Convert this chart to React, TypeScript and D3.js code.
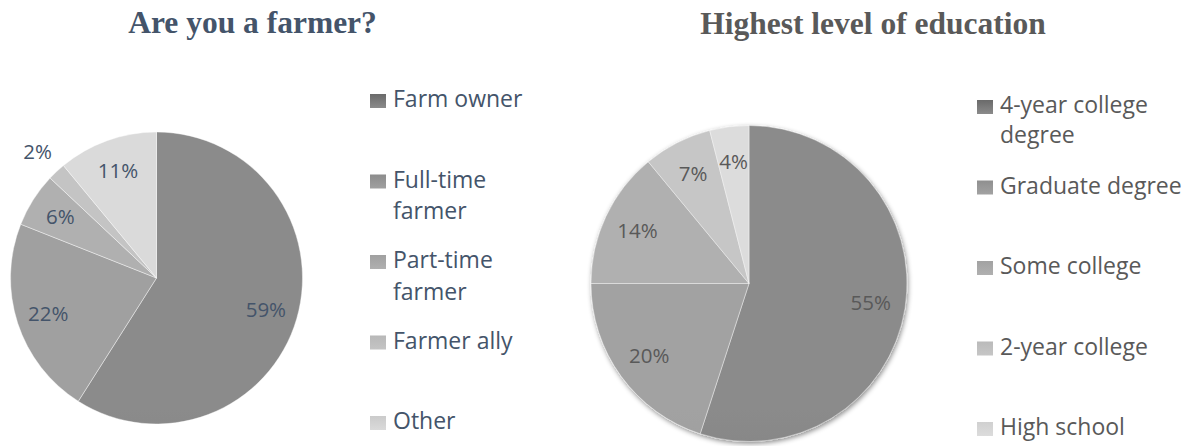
import React, { useEffect, useRef } from 'react';
import * as d3 from 'd3';

// chart data
const farmerTitle = 'Are you a farmer?';
const farmerCategories = ['Farm owner', 'Full-time farmer', 'Part-time farmer', 'Farmer ally', 'Other'];
const farmerValues = [59, 22, 6, 2, 11];

const educationTitle = 'Highest level of education';
const educationCategories = ['4-year college degree', 'Graduate degree', 'Some college', '2-year college', 'High school'];
const educationValues = [55, 20, 14, 7, 4];

// grey palettes (top of gradient, bottom of gradient)
const farmerColors = [
  ['#8b8b8b', '#6a6a6a'],
  ['#a0a0a0', '#8c8c8c'],
  ['#b0b0b0', '#a0a0a0'],
  ['#c4c4c4', '#b8b8b8'],
  ['#dadada', '#cbcbcb'],
];
const educationColors = [
  ['#8b8b8b', '#6a6a6a'],
  ['#a2a2a2', '#8f8f8f'],
  ['#b0b0b0', '#a2a2a2'],
  ['#c6c6c6', '#bababa'],
  ['#dcdcdc', '#d0d0d0'],
];

const WIDTH = 1201;
const HEIGHT = 446;
const LABEL_FONT = '"Open Sans", "DejaVu Sans", sans-serif';
const TITLE_FONT = '"Liberation Serif", "Times New Roman", serif';

// measure text so legend entries wrap like the original
const canvas = typeof document !== 'undefined' ? document.createElement('canvas') : null;
function wrapLines(text, maxWidth, fontSize) {
  const ctx = canvas.getContext('2d');
  ctx.font = `${fontSize}px ${LABEL_FONT}`;
  const words = text.split(' ');
  const lines = [];
  let line = '';
  words.forEach(w => {
    const test = line ? line + ' ' + w : w;
    if (line && ctx.measureText(test).width > maxWidth) {
      lines.push(line);
      line = w;
    } else {
      line = test;
    }
  });
  if (line) lines.push(line);
  return lines;
}

function drawPie(svg, opts) {
  const { id, categories, values, colors, cx, cy, r, textColor, title, titleX, titleY, legend, shadow } = opts;

  const defs = svg.append('defs');

  // gradient per slice, spanning the whole pie top to bottom
  colors.forEach((c, i) => {
    const g = defs
      .append('linearGradient')
      .attr('id', `${id}-slice-${i}`)
      .attr('gradientUnits', 'userSpaceOnUse')
      .attr('x1', 0)
      .attr('x2', 0)
      .attr('y1', cy - r)
      .attr('y2', cy + r);
    g.append('stop').attr('offset', '0%').attr('stop-color', c[0]);
    g.append('stop').attr('offset', '100%').attr('stop-color', c[1]);

    const s = defs
      .append('linearGradient')
      .attr('id', `${id}-key-${i}`)
      .attr('x1', 0)
      .attr('x2', 0)
      .attr('y1', 0)
      .attr('y2', 1);
    s.append('stop').attr('offset', '0%').attr('stop-color', c[1]);
    s.append('stop').attr('offset', '100%').attr('stop-color', c[0]);
  });

  if (shadow) {
    const f = defs
      .append('filter')
      .attr('id', `${id}-shadow`)
      .attr('x', '-10%')
      .attr('y', '-10%')
      .attr('width', '120%')
      .attr('height', '120%');
    f.append('feDropShadow')
      .attr('dx', 1)
      .attr('dy', 2)
      .attr('stdDeviation', 2.5)
      .attr('flood-color', '#000')
      .attr('flood-opacity', 0.45);
  }

  // title
  svg
    .append('text')
    .attr('x', titleX)
    .attr('y', titleY)
    .attr('text-anchor', 'middle')
    .attr('font-family', TITLE_FONT)
    .attr('font-weight', 'bold')
    .attr('font-size', 31.5)
    .attr('fill', textColor)
    .text(title);

  const pie = d3.pie().sort(null).value(d => d);
  const arcs = pie(values);
  const arc = d3.arc().innerRadius(0).outerRadius(r);

  const graph = svg.append('g').attr('transform', `translate(${cx},${cy})`);
  const slices = graph.append('g');
  if (shadow) slices.attr('filter', `url(#${id}-shadow)`);

  slices
    .selectAll('path')
    .data(arcs)
    .enter()
    .append('path')
    .attr('d', arc)
    .attr('fill', (d, i) => `url(#${id}-slice-${i})`)
    .attr('stroke', 'rgba(255,255,255,0.55)')
    .attr('stroke-width', 0.75);

  // data labels: inside for most, outside for tiny slices
  const inner = d3.arc().innerRadius(r * 0.78).outerRadius(r * 0.78);
  const outer = d3.arc().innerRadius(r * 1.19).outerRadius(r * 1.19);
  graph
    .selectAll('text.label')
    .data(arcs)
    .enter()
    .append('text')
    .attr('class', 'label')
    .attr('transform', d => `translate(${(d.data < 3 ? outer : inner).centroid(d)})`)
    .attr('text-anchor', 'middle')
    .attr('dy', '0.36em')
    .attr('font-family', LABEL_FONT)
    .attr('font-size', 20.5)
    .attr('fill', textColor)
    .text(d => d.data + '%');

  // legend
  const leg = svg.append('g');
  categories.forEach((name, i) => {
    const base = legend.y + i * legend.step;
    leg
      .append('rect')
      .attr('x', legend.x)
      .attr('y', base - 13)
      .attr('width', 16)
      .attr('height', 14)
      .attr('fill', `url(#${id}-key-${i})`);
    const t = leg
      .append('text')
      .attr('x', legend.x + 23)
      .attr('y', base)
      .attr('font-family', LABEL_FONT)
      .attr('font-size', 23)
      .attr('fill', textColor);
    wrapLines(name, legend.wrap, 23).forEach((line, j) => {
      t.append('tspan')
        .attr('x', legend.x + 23)
        .attr('y', base + j * legend.lineHeight)
        .text(line);
    });
  });
}

export default function App() {
  const ref = useRef(null);

  useEffect(() => {
    const svg = d3.select(ref.current);
    svg.selectAll('*').remove();

    drawPie(svg, {
      id: 'farmer',
      categories: farmerCategories,
      values: farmerValues,
      colors: farmerColors,
      cx: 156.5,
      cy: 278,
      r: 146,
      textColor: '#44546a',
      title: farmerTitle,
      titleX: 252.5,
      titleY: 33,
      legend: { x: 370, y: 107, step: 80.5, wrap: 150, lineHeight: 31.5 },
      shadow: false,
    });

    drawPie(svg, {
      id: 'edu',
      categories: educationCategories,
      values: educationValues,
      colors: educationColors,
      cx: 749,
      cy: 283.5,
      r: 158,
      textColor: '#595959',
      title: educationTitle,
      titleX: 873,
      titleY: 34,
      legend: { x: 977, y: 113, step: 80.5, wrap: 195, lineHeight: 30 },
      shadow: true,
    });
  }, []);

  return (
    <div style={{ position: 'absolute', left: 0, top: 0 }}>
      <svg ref={ref} width={WIDTH} height={HEIGHT} style={{ display: 'block', background: '#fff' }} />
    </div>
  );
}
